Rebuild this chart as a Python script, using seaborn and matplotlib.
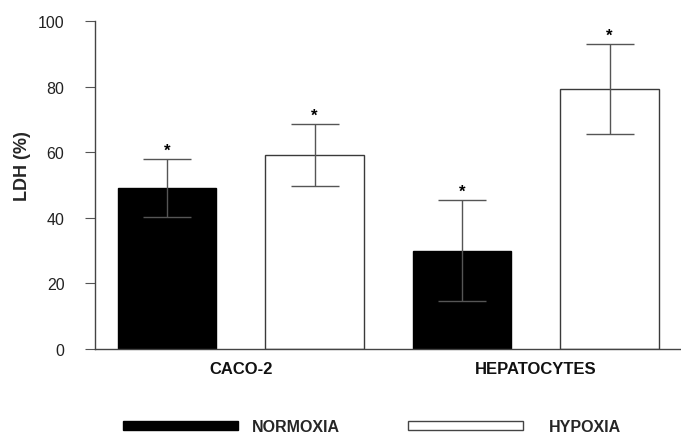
import matplotlib
matplotlib.use("Agg")
import matplotlib.pyplot as plt
from matplotlib.patches import Patch
import seaborn as sns
import pandas as pd

# LDH release per cell type and oxygen condition (mean and error)
cell_types = ["CACO-2", "HEPATOCYTES"]
conditions = ["NORMOXIA", "HYPOXIA"]
normoxia_mean = [49.0, 30.0]
hypoxia_mean = [59.1, 79.3]
normoxia_err = [8.9, 15.3]
hypoxia_err = [9.5, 13.7]
y_ticks = [0, 20, 40, 60, 80, 100]

df = pd.DataFrame({
    "cell": cell_types * 2,
    "condition": [conditions[0]] * 2 + [conditions[1]] * 2,
    "ldh": normoxia_mean + hypoxia_mean,
    "err": normoxia_err + hypoxia_err,
})

sns.set_style("ticks")
plt.rcParams["font.family"] = ["Liberation Sans", "DejaVu Sans"]

fig = plt.figure(figsize=(6.81, 4.35), dpi=100)
ax = fig.add_axes([95 / 681, 1 - 350 / 435, (681 - 95) / 681, (350 - 22) / 435])

palette = {"NORMOXIA": "black", "HYPOXIA": "white"}
sns.barplot(data=df, x="cell", y="ldh", hue="condition", order=cell_types,
            hue_order=conditions, palette=palette, width=1.0, gap=1 / 3,
            errorbar=None, legend=False, ax=ax, saturation=1)

edge = {"NORMOXIA": "black", "HYPOXIA": "#3a3a3a"}
for patch, cond in zip(ax.patches, [c for c in conditions for _ in cell_types]):
    patch.set_edgecolor(edge[cond])
    patch.set_linewidth(1.0)

# error bars and significance marks at each bar centre
for patch, (_, row) in zip(ax.patches, df.iterrows()):
    xc = patch.get_x() + patch.get_width() / 2
    ax.errorbar(xc, row["ldh"], yerr=row["err"], color="#555555",
                elinewidth=1.0, capsize=17.5, capthick=1.0, zorder=3)
    ax.annotate("*", (xc, row["ldh"] + row["err"]), xytext=(0, 1),
                textcoords="offset points", ha="center", va="bottom",
                fontsize=12, fontweight="bold", color="black")

ax.set_xlim(-0.494, 1.492)
ax.set_ylim(0, 100)
ax.set_yticks(y_ticks)
ax.set_yticklabels([str(t) for t in y_ticks], fontsize=11.5, color="#222222")
ax.set_xticks(range(len(cell_types)))
ax.set_xticklabels(cell_types, fontsize=12, fontweight="bold", color="#111111")
ax.tick_params(axis="x", length=0, pad=9)
ax.tick_params(axis="y", length=7, width=0.8, color="#555555", pad=15)
ax.set_xlabel("")
ax.set_ylabel("LDH (%)", fontsize=13, fontweight="bold")
ax.yaxis.set_label_coords(-0.110, 0.56)
sns.despine(ax=ax)
for side in ("left", "bottom"):
    ax.spines[side].set_color("#444444")
    ax.spines[side].set_linewidth(1.0)

# one legend entry per condition, laid out along the bottom edge
legend_style = dict(loc="center left", frameon=False, borderpad=0,
                    borderaxespad=0, handlelength=7.2, handleheight=0.5,
                    prop={"size": 11.5, "weight": "bold"})
handles = [Patch(facecolor="black", edgecolor="black", linewidth=1.0),
           Patch(facecolor="white", edgecolor="#444444", linewidth=1.0)]
fig.legend([handles[0]], [conditions[0]],
           bbox_to_anchor=(123 / 681, 1 - 428 / 435),
           handletextpad=0.9, **legend_style)
fig.legend([handles[1]], [conditions[1]],
           bbox_to_anchor=(408 / 681, 1 - 428 / 435),
           handletextpad=1.6, **legend_style)

fig.savefig("out.png", dpi=100)
